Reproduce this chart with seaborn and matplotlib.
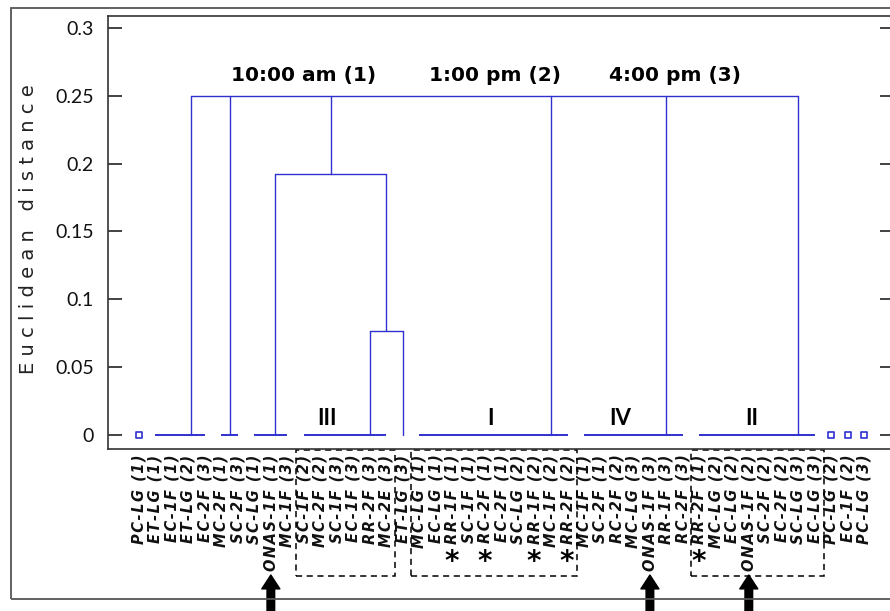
import matplotlib
matplotlib.use("Agg")
import matplotlib.pyplot as plt
import matplotlib.transforms as mtransforms
from matplotlib.patches import Rectangle
import seaborn as sns

# Leaf labels, left to right
leaf_labels = [
    "PC-LG (1)", "ET-LG (1)", "EC-1F (1)", "ET-LG (2)", "EC-2F (3)",
    "MC-2F (1)", "SC-2F (3)", "SC-LG (1)", "ONAS-1F (1)", "MC-1F (3)",
    "SC-1F (2)", "MC-2F (2)", "SC-1F (3)", "EC-1F (3)", "RR-2F (3)",
    "MC-2E (3)", "ET-LG (3)", "MC-LG (1)", "EC-LG (1)", "RR-1F (1)",
    "SC-1F (1)", "RC-2F (1)", "EC-2F (1)", "SC-LG (2)", "RR-1F (2)",
    "MC-1F (2)", "RR-2F (2)", "MC-1F (1)", "SC-2F (1)", "RC-2F (2)",
    "MC-LG (3)", "ONAS-1F (3)", "RR-1F (3)", "RC-2F (3)", "RR-2F (1)",
    "MC-LG (2)", "EC-LG (2)", "ONAS-1F (2)", "SC-2F (2)", "EC-2F (2)",
    "SC-LG (3)", "EC-LG (3)", "PC-LG (2)", "EC-1F (2)", "PC-LG (3)",
]

# Clusters joined at zero distance (first leaf, last leaf, stem position)
cluster_names = ["A", "B", "C", "III", "I", "IV", "II"]
cluster_first = [1, 5, 7, 10, 17, 27, 34]
cluster_last = [4, 6, 9, 15, 26, 33, 41]
cluster_stem = [3.15, 5.5, 8.25, 14, 25, 32, 40]

single_leaves = [0, 42, 43, 44]

# Merges: children and height
merge_children = [["III", "leaf16"], ["C", "m1"], ["A", "B", "m2", "I", "IV", "II"]]
merge_names = ["m1", "m2", "top"]
merge_heights = [0.077, 0.192, 0.25]

# Roman numeral labels and time labels
roman_labels = ["III", "I", "IV", "II"]
roman_x = [11.4, 21.3, 29.2, 37.2]
time_labels = ["10:00 am (1)", "1:00 pm (2)", "4:00 pm (3)"]
time_x = [9.98, 21.6, 32.5]

star_leaves = [19, 21, 24, 26, 34]
arrow_leaves = [8, 31, 37]
box_ranges = [(10, 15), (17, 26), (34, 41)]

yticks = [0, 0.05, 0.1, 0.15, 0.2, 0.25, 0.3]
ytick_labels = ["0", "0.05", "0.1", "0.15", "0.2", "0.25", "0.3"]

sns.set_theme(style="white")
plt.rcParams["font.family"] = ["DejaVu Sans"]

blue = "#3030d0"
fig = plt.figure(figsize=(8.9, 6.11), dpi=100)
ax = fig.add_axes([108 / 890, 1 - 449 / 611, (894 - 108) / 890, (449 - 16) / 611])

# node positions and base heights
node_x = {}
node_base = {}
for name, a, b, s in zip(cluster_names, cluster_first, cluster_last, cluster_stem):
    ax.plot([a, b], [0, 0], color=blue, lw=1.4, solid_capstyle="butt")
    node_x[name] = s
    node_base[name] = 0.0
node_x["leaf16"] = 16
node_base["leaf16"] = 0.0

for name, kids, h in zip(merge_names, merge_children, merge_heights):
    xs = [node_x[k] for k in kids]
    for k in kids:
        ax.plot([node_x[k], node_x[k]], [node_base[k], h], color=blue, lw=1.0)
    ax.plot([min(xs), max(xs)], [h, h], color=blue, lw=1.0)
    node_x[name] = (min(xs) + max(xs)) / 2
    node_base[name] = h

sns.scatterplot(x=single_leaves, y=[0] * len(single_leaves), marker="s", s=14,
                facecolor="white", edgecolor=blue, linewidth=1.2, ax=ax, zorder=3)

for lab, x in zip(roman_labels, roman_x):
    ax.text(x, 0.0125, lab, ha="center", va="center", fontsize=16,
            fontweight="bold", family="Lato", color="black")
for lab, x in zip(time_labels, time_x):
    ax.text(x, 0.2646, lab, ha="center", va="center", fontsize=14.5,
            fontweight="bold", color="black")

ax.set_xlim(-1.88, 45.81)
ax.set_ylim(-0.0103, 0.3088)
ax.set_yticks(yticks)
ax.set_yticklabels(ytick_labels, family="Lato", fontsize=14)
ax.tick_params(axis="y", direction="in", left=True, right=True, length=10,
               width=1.2, pad=10, colors="#222222")
ax.tick_params(axis="y", labelcolor="#111111")

spaced = ["\u200a".join(lab) for lab in leaf_labels]
ax.set_xticks(range(len(leaf_labels)))
ax.set_xticklabels(spaced, rotation=90, fontsize=10.5, fontweight="bold",
                   style="italic", va="top", ha="center", color="#111111")
ax.tick_params(axis="x", length=0, pad=4)

for side in ["left", "top", "bottom", "right"]:
    ax.spines[side].set_color("#333333")
    ax.spines[side].set_linewidth(1.2)

ax.set_ylabel(" ".join("Euclidean") + "   " + " ".join("distance"),
              fontsize=14, color="#222222")
ax.yaxis.set_label_coords(-0.089, 0.508)

trans = mtransforms.blended_transform_factory(ax.transData, ax.transAxes)

for lv in star_leaves:
    ax.text(lv - 0.05, -0.262, "*", transform=trans, ha="center", va="center",
            fontsize=20, fontweight="bold", color="black", clip_on=False)

for a, b in box_ranges:
    ax.add_patch(Rectangle((a - 0.5, -0.293), (b - a) + 1.05, 0.29, transform=trans,
                           fill=False, ls=(0, (4, 3)), lw=1.1, ec="black", clip_on=False))

for lv in arrow_leaves:
    ax.annotate("", xy=(lv, -0.291), xytext=(lv, -0.40), xycoords=trans, textcoords=trans,
                arrowprops=dict(width=5.5, headwidth=13, headlength=10, color="black", shrink=0),
                annotation_clip=False)

fig.add_artist(Rectangle((11 / 890, 1 - 599 / 611), 1.0, (599 - 8) / 611,
                         transform=fig.transFigure, fill=False, lw=1.3, ec="#555555"))

fig.savefig("out.png", dpi=100)
